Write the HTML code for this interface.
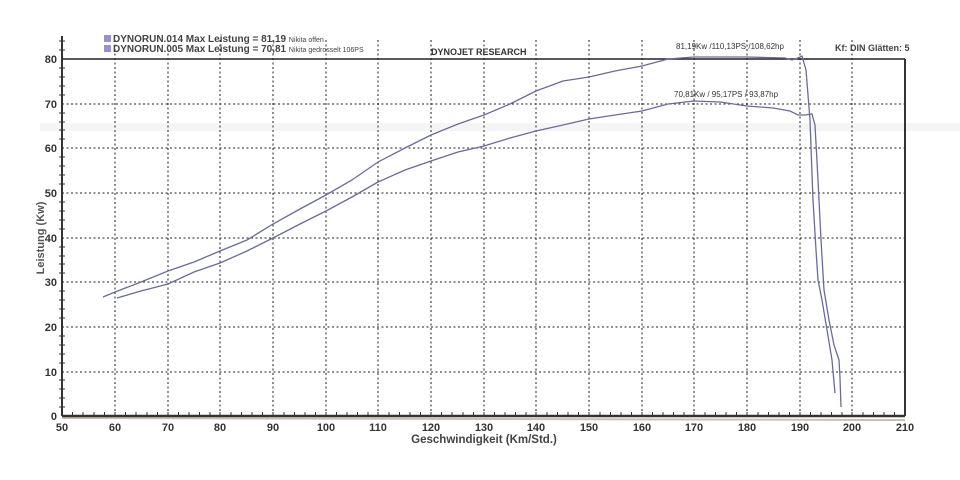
<!DOCTYPE html>
<html><head><meta charset="utf-8"><style>
html,body{margin:0;padding:0;background:#fff;}
svg{display:block;font-family:"Liberation Sans",sans-serif;}
</style></head><body>
<svg width="960" height="480" viewBox="0 0 960 480" xmlns="http://www.w3.org/2000/svg">
<rect width="960" height="480" fill="#fff"/>
<rect x="40" y="123" width="920" height="8" fill="#f5f5f5"/>
<g stroke="#222" stroke-width="1" stroke-dasharray="2,2.5">
<line x1="115" y1="40" x2="115" y2="416"/><line x1="168" y1="40" x2="168" y2="416"/>
<line x1="220" y1="40" x2="220" y2="416"/><line x1="273" y1="40" x2="273" y2="416"/>
<line x1="326" y1="40" x2="326" y2="416"/><line x1="378" y1="40" x2="378" y2="416"/>
<line x1="431" y1="40" x2="431" y2="416"/><line x1="484" y1="40" x2="484" y2="416"/>
<line x1="536" y1="40" x2="536" y2="416"/><line x1="589" y1="40" x2="589" y2="416"/>
<line x1="642" y1="40" x2="642" y2="416"/><line x1="694" y1="40" x2="694" y2="416"/>
<line x1="747" y1="40" x2="747" y2="416"/><line x1="800" y1="40" x2="800" y2="416"/>
<line x1="852" y1="40" x2="852" y2="416"/>
<line x1="62" y1="104" x2="905" y2="104"/><line x1="62" y1="148" x2="905" y2="148"/>
<line x1="62" y1="193" x2="905" y2="193"/><line x1="62" y1="238" x2="905" y2="238"/>
<line x1="62" y1="282" x2="905" y2="282"/><line x1="62" y1="327" x2="905" y2="327"/>
<line x1="62" y1="372" x2="905" y2="372"/>
</g>
<line x1="62" y1="59" x2="905" y2="59" stroke="#222" stroke-width="1.5"/>
<line x1="905" y1="59" x2="905" y2="416" stroke="#333" stroke-width="2"/>
<line x1="62" y1="418" x2="905" y2="420" stroke="#c9bfb3" stroke-width="2"/>
<line x1="62" y1="416" x2="905" y2="416" stroke="#333" stroke-width="2.5"/>
<line x1="62" y1="36" x2="62" y2="416" stroke="#333" stroke-width="2"/>
<g stroke="#333" stroke-width="1">
<path d="M62 416v-4M72.5 416v-4M83 416v-4M94 416v-4M104.5 416v-4M115 416v-4M125.5 416v-4M136 416v-4M147 416v-4M157.5 416v-4M168 416v-4M178.5 416v-4M189 416v-4M199.5 416v-4M210 416v-4M220 416v-4M231 416v-4M241.5 416v-4M252 416v-4M262.5 416v-4M273 416v-4M284 416v-4M294.5 416v-4M305 416v-4M315.5 416v-4M326 416v-4M336.5 416v-4M347 416v-4M357.5 416v-4M368 416v-4M378 416v-4M389 416v-4M399.5 416v-4M410 416v-4M420.5 416v-4M431 416v-4M441.5 416v-4M452 416v-4M463 416v-4M473.5 416v-4M484 416v-4M494.5 416v-4M505 416v-4M515.5 416v-4M526 416v-4M536 416v-4M547 416v-4M557.5 416v-4M568 416v-4M578.5 416v-4M589 416v-4M600 416v-4M610.5 416v-4M621 416v-4M631.5 416v-4M642 416v-4M652.5 416v-4M663 416v-4M673.5 416v-4M684 416v-4M694 416v-4M705 416v-4M715.5 416v-4M726 416v-4M736.5 416v-4M747 416v-4M758 416v-4M768.5 416v-4M779 416v-4M789.5 416v-4M800 416v-4M810.5 416v-4M821 416v-4M831.5 416v-4M842 416v-4M852 416v-4M863 416v-4M873.5 416v-4M884 416v-4M894.5 416v-4"/>
<path d="M59 407h6M59 398h6M59 389h6M59 380h6M59 363h6M59 354h6M59 345h6M59 336h6M59 318h6M59 309h6M59 300h6M59 291h6M59 273h6M59 264h6M59 256h6M59 247h6M59 229h6M59 220h6M59 211h6M59 202h6M59 184h6M59 175h6M59 166h6M59 157h6M59 139h6M59 130h6M59 122h6M59 113h6M59 95h6M59 86h6M59 77h6M59 68h6M59 50h6M59 41h6"/>
</g>
<g font-size="11" font-weight="bold" fill="#333" text-anchor="end">
<text x="57" y="420">0</text><text x="57" y="376">10</text><text x="57" y="331">20</text>
<text x="57" y="286">30</text><text x="57" y="242">40</text><text x="57" y="197">50</text>
<text x="57" y="152">60</text><text x="57" y="108">70</text><text x="57" y="63">80</text>
</g>
<g font-size="11" font-weight="bold" fill="#333" text-anchor="middle">
<text x="62" y="431">50</text><text x="115" y="431">60</text><text x="168" y="431">70</text>
<text x="220" y="431">80</text><text x="273" y="431">90</text><text x="326" y="431">100</text>
<text x="378" y="431">110</text><text x="431" y="431">120</text><text x="484" y="431">130</text>
<text x="536" y="431">140</text><text x="589" y="431">150</text><text x="642" y="431">160</text>
<text x="694" y="431">170</text><text x="747" y="431">180</text><text x="800" y="431">190</text>
<text x="852" y="431">200</text><text x="905" y="431">210</text>
<text x="484" y="443" font-size="11.5" fill="#444">Geschwindigkeit (Km/Std.)</text>
</g>
<text transform="translate(44,238) rotate(-90)" font-size="11" font-weight="bold" fill="#555" text-anchor="middle">Leistung (Kw)</text>
<rect x="104" y="35" width="7" height="7" fill="#9a90d0"/>
<rect x="104" y="45" width="7" height="7" fill="#9a90d0"/>
<text x="113" y="42" font-size="10" font-weight="bold" fill="#444">DYNORUN.014 Max Leistung = 81,19 <tspan font-size="7" font-weight="normal">Nikita offen</tspan></text>
<text x="113" y="52" font-size="10" font-weight="bold" fill="#444">DYNORUN.005 Max Leistung = 70,81 <tspan font-size="7" font-weight="normal">Nikita gedrosselt 106PS</tspan></text>
<text x="431" y="55" font-size="9" font-weight="bold" fill="#333">DYNOJET RESEARCH</text>
<text x="835" y="51" font-size="9" font-weight="bold" fill="#444">Kf: DIN  Glätten: 5</text>
<text x="676" y="49" font-size="8" fill="#333">81,19Kw /110,13PS /108,62hp</text>
<text x="674" y="97" font-size="8" fill="#333">70,81Kw / 95,17PS / 93,87hp</text>
<g fill="none" stroke="#6a6aa0" stroke-width="1.3">
<path d="M103 297 L115 292 L141 282 L168 271 L194 262 L220 251 L247 240 L273 224 L300 209 L326 195 L352 180 L378 162 L405 148 L431 135 L458 124 L484 115 L510 104 L536 91 L563 81 L589 77 L615 71 L642 66 L668 59 L694 57 L747 57 L785 58 L792 60 L798 58 L802 56 L806 70 L810 120 L813 200 L816 250 L818 280 L822 300 L827 330 L832 360 L835 393"/>
<path d="M117 298 L141 291 L168 284 L194 272 L220 263 L247 251 L273 238 L300 224 L326 211 L352 197 L378 182 L405 170 L431 161 L458 152 L484 146 L510 138 L536 131 L563 125 L589 119 L615 115 L642 111 L668 104 L694 101 L720 102 L747 106 L773 108 L790 111 L798 115 L805 115 L812 114 L815 125 L818 180 L821 240 L824 290 L829 320 L834 345 L839 360 L840 378 L841 407"/>
</g>
</svg>
</body></html>
